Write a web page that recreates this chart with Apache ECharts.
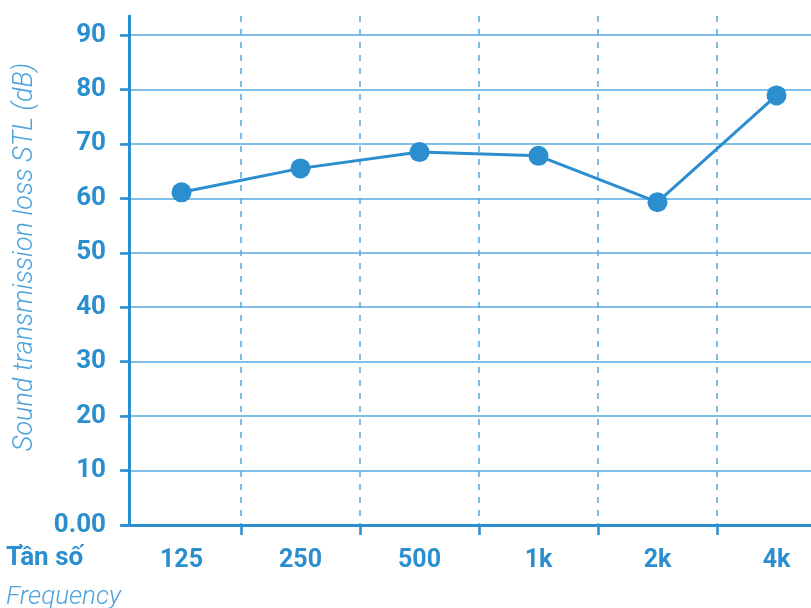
<!DOCTYPE html>
<html>
<head>
<meta charset="utf-8">
<script src="https://cdn.jsdelivr.net/npm/echarts@6/dist/echarts.min.js"></script>
<style>html,body{margin:0;padding:0;background:#fff;}#c{width:811px;height:608px;}</style>
</head>
<body>
<div id="c"></div>
<script>
var categories = ['125', '250', '500', '1k', '2k', '4k'];
var stlValues = [61.1, 65.5, 68.5, 67.8, 59.3, 78.9];
var yTicks = [0, 10, 20, 30, 40, 50, 60, 70, 80, 90];

var BLUE = '#2a8ecf';
var GRID = '#55aae0';
var FONT = 'Roboto';

var chart = echarts.init(document.getElementById('c'), null, {renderer: 'canvas'});
chart.setOption({
  animation: false,
  backgroundColor: '#fff',
  grid: [
    {left: 122, width: 714, top: 35, bottom: 83, containLabel: false, outerBoundsMode: 'none'},
    {left: 122, width: 714, top: 16, bottom: 83, containLabel: false, outerBoundsMode: 'none'}
  ],
  xAxis: [
    {
      gridIndex: 0, type: 'category', data: categories, boundaryGap: true,
      axisLine: {lineStyle: {color: BLUE, width: 3}},
      axisTick: {show: true, length: 10, lineStyle: {color: BLUE, width: 2.5},
                 interval: function (i) { return i !== 0; }},
      axisLabel: {color: BLUE, fontFamily: FONT, fontWeight: 'bold', fontSize: 25, margin: 23},
      splitLine: {show: false}
    },
    {
      gridIndex: 1, type: 'category', data: categories, boundaryGap: true,
      axisLine: {show: false}, axisTick: {show: false}, axisLabel: {show: false},
      splitLine: {show: true, interval: function (i) { return i !== 0; },
                  lineStyle: {color: GRID, width: 1.5, type: [6, 7]}}
    }
  ],
  yAxis: [
    {
      gridIndex: 0, type: 'value', min: yTicks[0], max: yTicks[yTicks.length - 1], interval: 10,
      offset: -7,
      axisLine: {show: true, lineStyle: {color: BLUE, width: 3}},
      axisTick: {show: true, length: 9, lineStyle: {color: BLUE, width: 2.5}},
      axisLabel: {color: BLUE, fontFamily: FONT, fontWeight: 'bold', fontSize: 26, margin: 23,
                  formatter: function (v) { return v === 0 ? '0.00' : String(v); }},
      splitLine: {show: true, lineStyle: {color: GRID, width: 1.5}}
    },
    {
      gridIndex: 1, type: 'value', min: 0, max: 93.5, offset: -7,
      axisLine: {show: true, lineStyle: {color: BLUE, width: 3}},
      axisTick: {show: false}, axisLabel: {show: false}, splitLine: {show: false}
    }
  ],
  graphic: [
    {type: 'text', left: 6, top: 545, style: {text: 'Tần số', fill: BLUE, font: 'bold 26px Roboto'}},
    {type: 'text', left: 6, top: 584, style: {text: 'Frequency', fill: '#4da3dc', font: 'italic 300 26px Roboto'}},
    {type: 'text', x: 25, y: 257, rotation: Math.PI / 2,
     style: {text: 'Sound transmission loss STL (dB)', fill: '#4da3dc', font: 'italic 300 27px Roboto',
             align: 'center', verticalAlign: 'middle'}}
  ],
  series: [{
    type: 'line', xAxisIndex: 0, yAxisIndex: 0, data: stlValues,
    symbol: 'circle', symbolSize: 20,
    lineStyle: {color: BLUE, width: 3},
    itemStyle: {color: BLUE},
    z: 10
  }]
});
</script>
</body>
</html>
